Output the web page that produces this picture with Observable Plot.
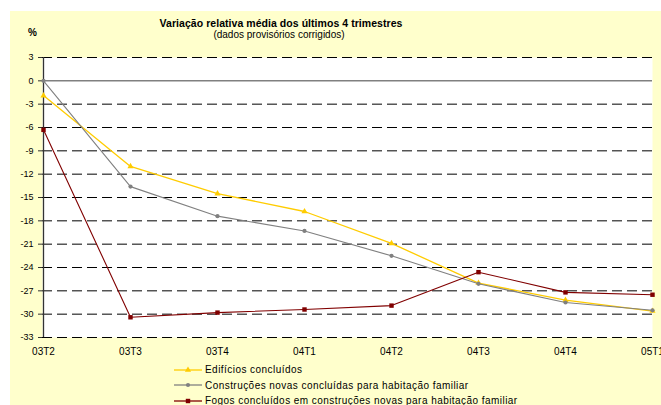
<!DOCTYPE html>
<html>
<head>
<meta charset="utf-8">
<script src="https://cdn.jsdelivr.net/npm/d3@7"></script>
<script src="https://cdn.jsdelivr.net/npm/@observablehq/plot@0.6"></script>
<style>
html, body { margin: 0; padding: 0; overflow: hidden; background: #fff; }
#wrap { position: relative; width: 661px; height: 405px; overflow: hidden; font-family: "Liberation Sans", Arial, sans-serif; }
#panel { position: absolute; left: 10px; top: 11px; width: 700px; height: 420px; background: #FFFFCC; }
#chart { position: absolute; left: 0; top: 0; }
.t { position: absolute; white-space: nowrap; color: #000; }
#title { left: 0; width: 562px; text-align: center; top: 17px; font-size: 10.5px; font-weight: bold; letter-spacing: 0.05px; }
#subtitle { left: 0; width: 558px; text-align: center; top: 29px; font-size: 10px; }
#pct { left: 28px; top: 27px; font-size: 10px; font-weight: bold; }
#legend { position: absolute; left: 174px; top: 362px; }
.row { display: flex; align-items: center; height: 15.5px; font-size: 10px; letter-spacing: 0.45px; }
.row svg { margin-right: 3px; }
</style>
</head>
<body>
<div id="wrap">
  <div id="panel"></div>
  <div id="chart"></div>
  <div class="t" id="title">Variação relativa média dos últimos 4 trimestres</div>
  <div class="t" id="subtitle">(dados provisórios corrigidos)</div>
  <div class="t" id="pct">%</div>
  <div id="legend"></div>
</div>
<script>
const categories = ["03T2", "03T3", "03T4", "04T1", "04T2", "04T3", "04T4", "05T1"];
const seriesNames = [
  "Edifícios concluídos",
  "Construções novas concluídas para habitação familiar",
  "Fogos concluídos em construções novas para habitação familiar"
];
const edificios = [-1.9, -11.0, -14.5, -16.8, -20.9, -26.0, -28.2, -29.6];
const construcoes = [0.0, -13.6, -17.4, -19.3, -22.5, -26.1, -28.5, -29.5];
const fogos = [-6.3, -30.4, -29.8, -29.4, -28.9, -24.6, -27.2, -27.5];
const yTicks = [3, 0, -3, -6, -9, -12, -15, -18, -21, -24, -27, -30, -33];

const colors = ["#FFCC00", "#808080", "#800000"];
const symbols = ["triangle", "circle", "square"];
const radii = [2.3, 2.1, 2.5];
const valuesList = [edificios, construcoes, fogos];

const data = [];
valuesList.forEach((vals, s) => vals.forEach((v, i) => data.push({series: seriesNames[s], cat: categories[i], value: v, s})));

const seriesMarks = [];
[0, 1, 2].forEach(s => {
  const d = data.filter(r => r.s === s);
  seriesMarks.push(Plot.line(d, {x: "cat", y: "value", stroke: colors[s], strokeWidth: s === 0 ? 1.3 : 1.1}));
  seriesMarks.push(Plot.dot(d, {x: "cat", y: "value", fill: colors[s], stroke: "none", symbol: symbols[s], r: radii[s]}));
});

const chart = Plot.plot({
  width: 661,
  height: 360,
  marginLeft: 42,
  marginRight: 9,
  marginTop: 57,
  marginBottom: 23,
  style: {background: "transparent", fontFamily: "'Liberation Sans', Arial, sans-serif", color: "#000", overflow: "hidden"},
  x: {type: "point", domain: categories, padding: 0, label: null},
  y: {domain: [-33, 3], label: null},
  marks: [
    Plot.frame({fill: "white", stroke: "none"}),
    Plot.ruleY(yTicks.filter(d => d !== 0), {stroke: "#000", strokeWidth: 1, strokeDasharray: "10,5"}),
    Plot.ruleY([0], {stroke: "#808080", strokeWidth: 1.5}),
    Plot.ruleX([categories[0]], {stroke: "#333", strokeWidth: 1.3}),
    Plot.axisY({ticks: yTicks, tickSize: 4, tickPadding: 5, fontSize: 9, tickFormat: d => String(d), label: null, stroke: "#333"}),
    Plot.axisX({tickSize: 0, tickPadding: 10, fontSize: 10, label: null}),
    ...seriesMarks
  ]
});
document.getElementById("chart").appendChild(chart);

// legend
const legend = document.getElementById("legend");
seriesNames.forEach((name, s) => {
  const row = document.createElement("div");
  row.className = "row";
  const sym = d3.symbol().type(s === 0 ? d3.symbolTriangle : s === 1 ? d3.symbolCircle : d3.symbolSquare).size(Math.PI * radii[s] * radii[s])();
  row.innerHTML = `<svg width="28" height="10"><line x1="0" x2="28" y1="5" y2="5" stroke="${colors[s]}" stroke-width="1.3"/><path d="${sym}" transform="translate(14,5)" fill="${colors[s]}"/></svg><span>${name}</span>`;
  legend.appendChild(row);
});
</script>
</body>
</html>
